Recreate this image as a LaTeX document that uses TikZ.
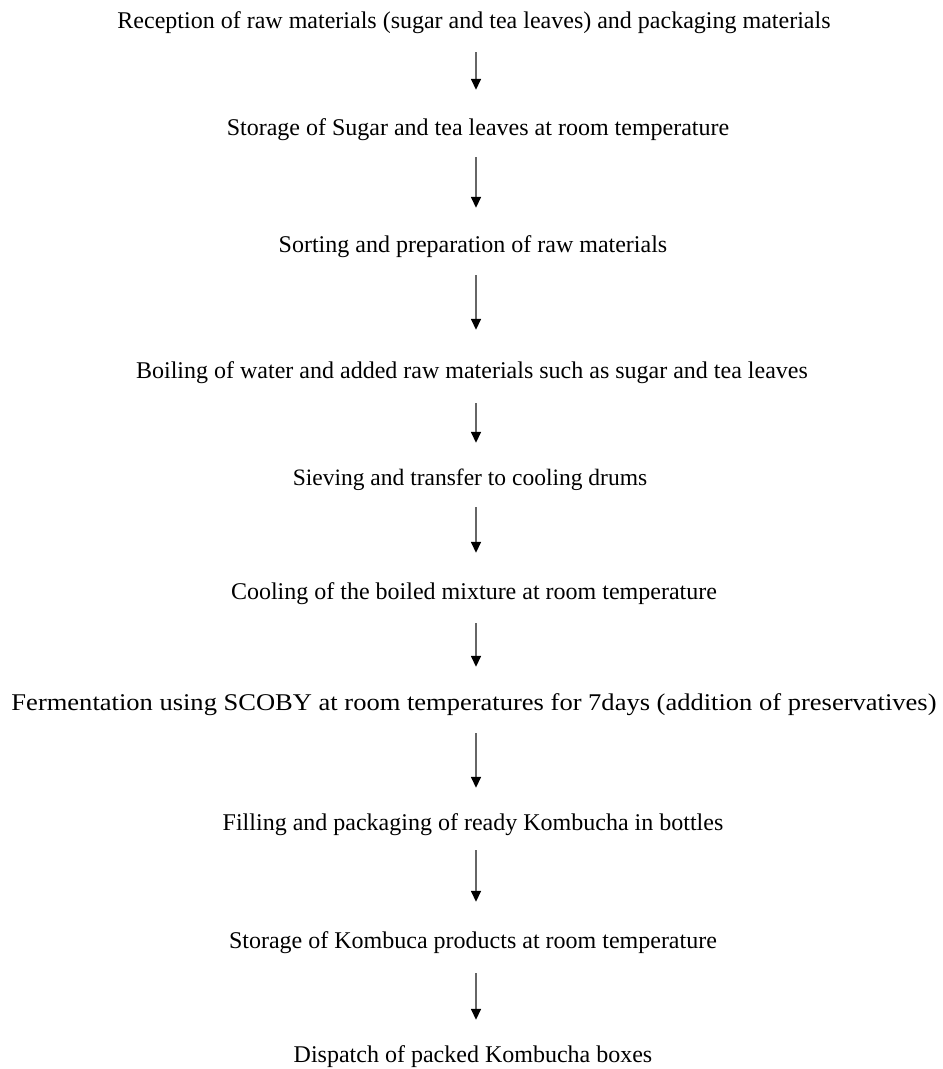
\documentclass[tikz,border=0pt]{standalone}
\usepackage{fontspec}
\setmainfont{Liberation Serif}
\usetikzlibrary{arrows.meta}
\begin{document}
\begin{tikzpicture}[x=1pt,y=-1pt,
  stepnode/.style={anchor=base,inner sep=0pt,text height=17pt,text depth=5pt,font=\fontsize{24}{28}\selectfont},
  flow/.style={draw=black!60,line width=1.5pt,-{Triangle[width=10pt,length=11pt,fill=black,color=black]}}]
\useasboundingbox (0,0) rectangle (943,1069);
\coordinate (ax) at (476,0);
\node[stepnode] (n1) at (474,28) {Reception of raw materials (sugar and tea leaves) and packaging materials};
\node[stepnode] (n2) at (478,135) {Storage of Sugar and tea leaves at room temperature};
\node[stepnode] (n3) at (473,252) {Sorting and preparation of raw materials};
\node[stepnode] (n4) at (472,378) {Boiling of water and added raw materials such as sugar and tea leaves};
\node[stepnode,font=\fontsize{23.5}{28}\selectfont] (n5) at (470,485) {Sieving and transfer to cooling drums};
\node[stepnode] (n6) at (474,599) {Cooling of the boiled mixture at room temperature};
\node[stepnode] (n7) at (474,710) {\scalebox{1.105}[1]{Fermentation using SCOBY at room temperatures for 7days (addition of preservatives)}};
\node[stepnode] (n8) at (473,830) {Filling and packaging of ready Kombucha in bottles};
\node[stepnode] (n9) at (473,948) {Storage of Kombuca products at room temperature};
\node[stepnode] (n10) at (473,1062) {Dispatch of packed Kombucha boxes};
\draw[flow,shorten <=19pt,shorten >=28pt] (n1.south -| ax) -- (n2.north -| ax);
\draw[flow,shorten <=17pt,shorten >=27pt] (n2.south -| ax) -- (n3.north -| ax);
\draw[flow,shorten <=18pt,shorten >=31pt] (n3.south -| ax) -- (n4.north -| ax);
\draw[flow,shorten <=20pt,shorten >=25pt] (n4.south -| ax) -- (n5.north -| ax);
\draw[flow,shorten <=17pt,shorten >=29pt] (n5.south -| ax) -- (n6.north -| ax);
\draw[flow,shorten <=19pt,shorten >=26pt] (n6.south -| ax) -- (n7.north -| ax);
\draw[flow,shorten <=18pt,shorten >=25pt] (n7.south -| ax) -- (n8.north -| ax);
\draw[flow,shorten <=15pt,shorten >=29pt] (n8.south -| ax) -- (n9.north -| ax);
\draw[flow,shorten <=20pt,shorten >=25pt] (n9.south -| ax) -- (n10.north -| ax);
\end{tikzpicture}
\end{document}
